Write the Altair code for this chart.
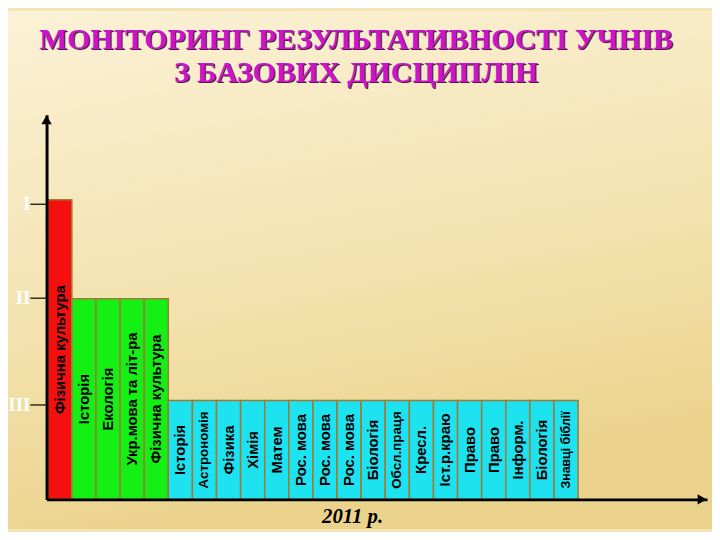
import altair as alt
import pandas as pd

# ---- data ----
subjects = [
    "Фізична культура",
    "Історія", "Екологія", "Укр.мова та літ-ра", "Фізична культура",
    "Історія", "Астрономія", "Фізика", "Хімія", "Матем",
    "Рос. мова", "Рос. мова", "Рос. мова", "Біологія", "Обсл.праця",
    "Кресл.", "Іст.р.краю", "Право", "Право", "Інформ.", "Біологія",
    "Знавці біблії",
]
levels = ["I"] + ["II"] * 4 + ["III"] * 17
level_names = ["I", "II", "III"]
level_heights = [3.03, 2.03, 1.0]
level_colors = ["#F50F0F", "#14F014", "#1DE2F0"]
tick_values = [2.99, 2.04, 0.96]
tick_labels = ["I", "II", "III"]
title_lines = ["МОНІТОРИНГ  РЕЗУЛЬТАТИВНОСТІ  УЧНІВ", "З БАЗОВИХ ДИСЦИПЛІН"]
year_label = "2011 р."
smaller_labels = ["Знавці біблії"]
small_labels = ["Астрономія", "Обсл.праця"]

height_of = dict(zip(level_names, level_heights))
df = pd.DataFrame({"idx": range(len(subjects)), "subject": subjects, "level": levels})
df["x0"] = df["idx"]
df["x1"] = df["idx"] + 1
df["h"] = df["level"].map(height_of)
df["xm"] = df["idx"] + 0.5
df["ym"] = df["h"] / 2

W, H = 668, 389
x_dom = [-0.05, 27.35]
y_dom = [0, 3.89]
xs = alt.Scale(domain=x_dom, nice=False, zero=False)
ys = alt.Scale(domain=y_dom, nice=False, zero=False)

# nested ternary built from the tick lists
label_expr = "'" + tick_labels[-1] + "'"
for v, lab in reversed(list(zip(tick_values[:-1], tick_labels[:-1]))):
    label_expr = f"abs(datum.value - {v}) < 0.01 ? '{lab}' : " + label_expr

x_axis = alt.Axis(
    domain=True, domainColor="black", domainWidth=3, ticks=False, labels=False,
    grid=False, title=year_label, titleFont="Liberation Serif", titleFontSize=21,
    titleFontStyle="italic", titleFontWeight="bold", titleColor="black",
    titleX=309, titleY=23, titleAlign="center", titleBaseline="alphabetic", zindex=1)
y_axis = alt.Axis(
    values=tick_values, labelExpr=label_expr, domain=True, domainColor="black",
    domainWidth=3, ticks=True, tickColor="black", tickSize=17, tickWidth=1.2,
    labelColor="#FFFFFF", labelFont="Liberation Serif", labelFontSize=19,
    labelFontWeight="bold", labelPadding=0, grid=False, title=None, zindex=1)

bg = alt.Chart(pd.DataFrame({"a": [0]})).mark_rect(
    color=alt.Gradient(
        gradient="linear",
        stops=[alt.GradientStop(color="#FBF1D6", offset=0),
               alt.GradientStop(color="#F3E2AE", offset=0.6),
               alt.GradientStop(color="#EBD38C", offset=1)],
        x1=0, x2=0.25, y1=0, y2=1,
    )
).encode(x=alt.value(-39), x2=alt.value(W + 5), y=alt.value(-105), y2=alt.value(H + 30))

bars = alt.Chart(df).mark_rect(stroke="#A07A34", strokeWidth=1.5).encode(
    x=alt.X("x0:Q", scale=xs, axis=x_axis),
    x2="x1:Q",
    y=alt.Y("h:Q", scale=ys, axis=y_axis),
    y2=alt.datum(0),
    color=alt.Color("level:N", scale=alt.Scale(domain=level_names, range=level_colors), legend=None),
)

texts = alt.Chart(df).mark_text(
    angle=270, font="Liberation Sans", fontWeight="bold", color="black",
    align="center", baseline="middle",
).encode(
    x=alt.X("xm:Q", scale=xs, axis=x_axis),
    y=alt.Y("ym:Q", scale=ys, axis=y_axis),
    text="subject:N",
    size=alt.when(alt.FieldOneOfPredicate(field="subject", oneOf=smaller_labels))
    .then(alt.value(12.5))
    .when(alt.FieldOneOfPredicate(field="subject", oneOf=small_labels))
    .then(alt.value(13.5))
    .otherwise(alt.value(15)),
)

arrow_up = alt.Chart(pd.DataFrame({"x": [x_dom[0]], "y": [y_dom[1]]})).mark_point(
    shape="triangle-up", filled=True, color="black", size=110, opacity=1, yOffset=5
).encode(x=alt.X("x:Q", scale=xs, axis=x_axis), y=alt.Y("y:Q", scale=ys, axis=y_axis))

arrow_right = alt.Chart(pd.DataFrame({"x": [x_dom[1]], "y": [y_dom[0]]})).mark_point(
    shape="triangle-right", filled=True, color="black", size=110, opacity=1, xOffset=-5
).encode(x=alt.X("x:Q", scale=xs, axis=x_axis), y=alt.Y("y:Q", scale=ys, axis=y_axis))

title_layers = []
for line, ypos in zip(title_lines, [-67, -33]):
    d = pd.DataFrame({"t": [line]})
    shadow = alt.Chart(d).mark_text(
        font="Liberation Serif", fontWeight="bold", fontSize=30, color="#4A1E3A",
        align="center", baseline="alphabetic", dx=1.2, dy=1.2,
    ).encode(text="t:N", x=alt.value(313), y=alt.value(ypos))
    main = alt.Chart(d).mark_text(
        font="Liberation Serif", fontWeight="bold", fontSize=30, color="#CC14CC",
        align="center", baseline="alphabetic",
    ).encode(text="t:N", x=alt.value(313), y=alt.value(ypos))
    title_layers += [shadow, main]

chart = alt.layer(bg, bars, texts, arrow_up, arrow_right, *title_layers).properties(
    width=W, height=H,
    padding={"left": 39, "top": 105, "right": 5, "bottom": 30},
    autosize=alt.AutoSizeParams(type="none"),
).configure(background="#F4E4B6").configure_view(strokeWidth=0)

chart.save("out.html", embed_options={"renderer": "svg", "actions": False})
